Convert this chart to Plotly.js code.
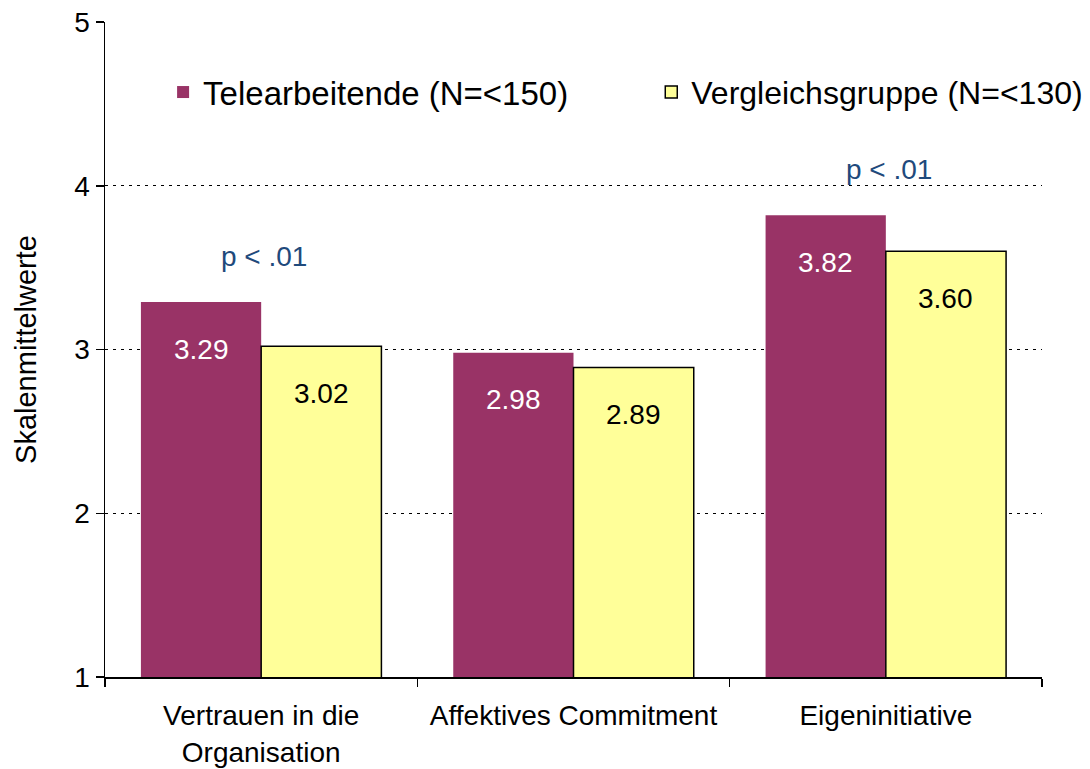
<!DOCTYPE html>
<html>
<head>
<meta charset="utf-8">
<script src="https://cdn.plot.ly/plotly-3.0.1.min.js"></script>
<style>html,body{margin:0;padding:0;background:#fff;}#chart{width:1090px;height:769px;}</style>
</head>
<body>
<div id="chart"></div>
<script>
const categories = ["Vertrauen in die<br>Organisation", "Affektives Commitment", "Eigeninitiative"];
const seriesNames = ["Telearbeitende (N=<150)", "Vergleichsgruppe (N=<130)"];
const teleValues = [3.29, 2.98, 3.82];
const vergleichValues = [3.02, 2.89, 3.60];
const yTickVals = [1, 2, 3, 4, 5];
const pLabels = ["p < .01", "", "p < .01"];
const pLabelY = [3.57, null, 4.10];

const FONT = "Liberation Sans, Arial, sans-serif";
const maroon = "#993366";
const yellow = "#FFFF99";

const traces = [
  {
    type: "bar", name: seriesNames[0], x: categories, y: teleValues,
    marker: {color: maroon, line: {width: 0}},
    hoverinfo: "none", legend: "legend"
  },
  {
    type: "bar", name: seriesNames[1], x: categories, y: vergleichValues,
    marker: {color: yellow, line: {color: "#000", width: 1.5}},
    hoverinfo: "none", legend: "legend2"
  }
];

const annotations = [];
categories.forEach((c, i) => {
  annotations.push({x: c, y: teleValues[i], xref: "x", yref: "y", text: teleValues[i].toFixed(2),
    showarrow: false, xshift: -60, yshift: -47, font: {family: FONT, size: 28, color: "#ffffff"}});
  annotations.push({x: c, y: vergleichValues[i], xref: "x", yref: "y", text: vergleichValues[i].toFixed(2),
    showarrow: false, xshift: 60, yshift: -47, font: {family: FONT, size: 28, color: "#000000"}});
  if (pLabels[i]) {
    annotations.push({x: c, y: pLabelY[i], xref: "x", yref: "y", text: pLabels[i], showarrow: false,
      xshift: 3, font: {family: FONT, size: 28, color: "#1F4A7C"}});
  }
});

const legendBase = {
  orientation: "h", xanchor: "left", y: 0.893, yanchor: "middle",
  bgcolor: "rgba(0,0,0,0)", borderwidth: 0
};

const layout = {
  width: 1090, height: 769,
  margin: {l: 105, r: 48, t: 22, b: 92, pad: 0, autoexpand: false},
  paper_bgcolor: "#fff", plot_bgcolor: "#fff",
  font: {family: FONT, color: "#000"},
  barmode: "group", bargap: 0.23, bargroupgap: 0,
  showlegend: true,
  legend: Object.assign({}, legendBase, {x: 0.062, font: {family: FONT, size: 33, color: "#000"}}),
  legend2: Object.assign({}, legendBase, {x: 0.583, font: {family: FONT, size: 32, color: "#000"}}),
  xaxis: {
    type: "category", range: [-0.5, 2.5],
    showline: true, linecolor: "#000", linewidth: 1.5,
    ticks: "outside", tickson: "boundaries", ticklen: 8, tickcolor: "#000", tickwidth: 1.5,
    tickfont: {family: FONT, size: 28, color: "#000"},
    ticklabelstandoff: 13, automargin: false,
    showgrid: false, zeroline: false, fixedrange: true
  },
  yaxis: {
    range: [1, 5], tickvals: yTickVals, ticktext: yTickVals.map(String),
    showline: true, linecolor: "#000", linewidth: 1.5,
    ticks: "outside", ticklen: 8, tickcolor: "#000", tickwidth: 1.5,
    tickfont: {family: FONT, size: 28, color: "#000"},
    showgrid: true, gridcolor: "#000", gridwidth: 1, griddash: "3px,5px",
    zeroline: false, fixedrange: true, automargin: false,
    title: {text: "Skalenmittelwerte", font: {family: FONT, size: 29, color: "#000"}, standoff: 29}
  },
  annotations: annotations
};

Plotly.newPlot("chart", traces, layout, {displayModeBar: false, staticPlot: true});
</script>
</body>
</html>
